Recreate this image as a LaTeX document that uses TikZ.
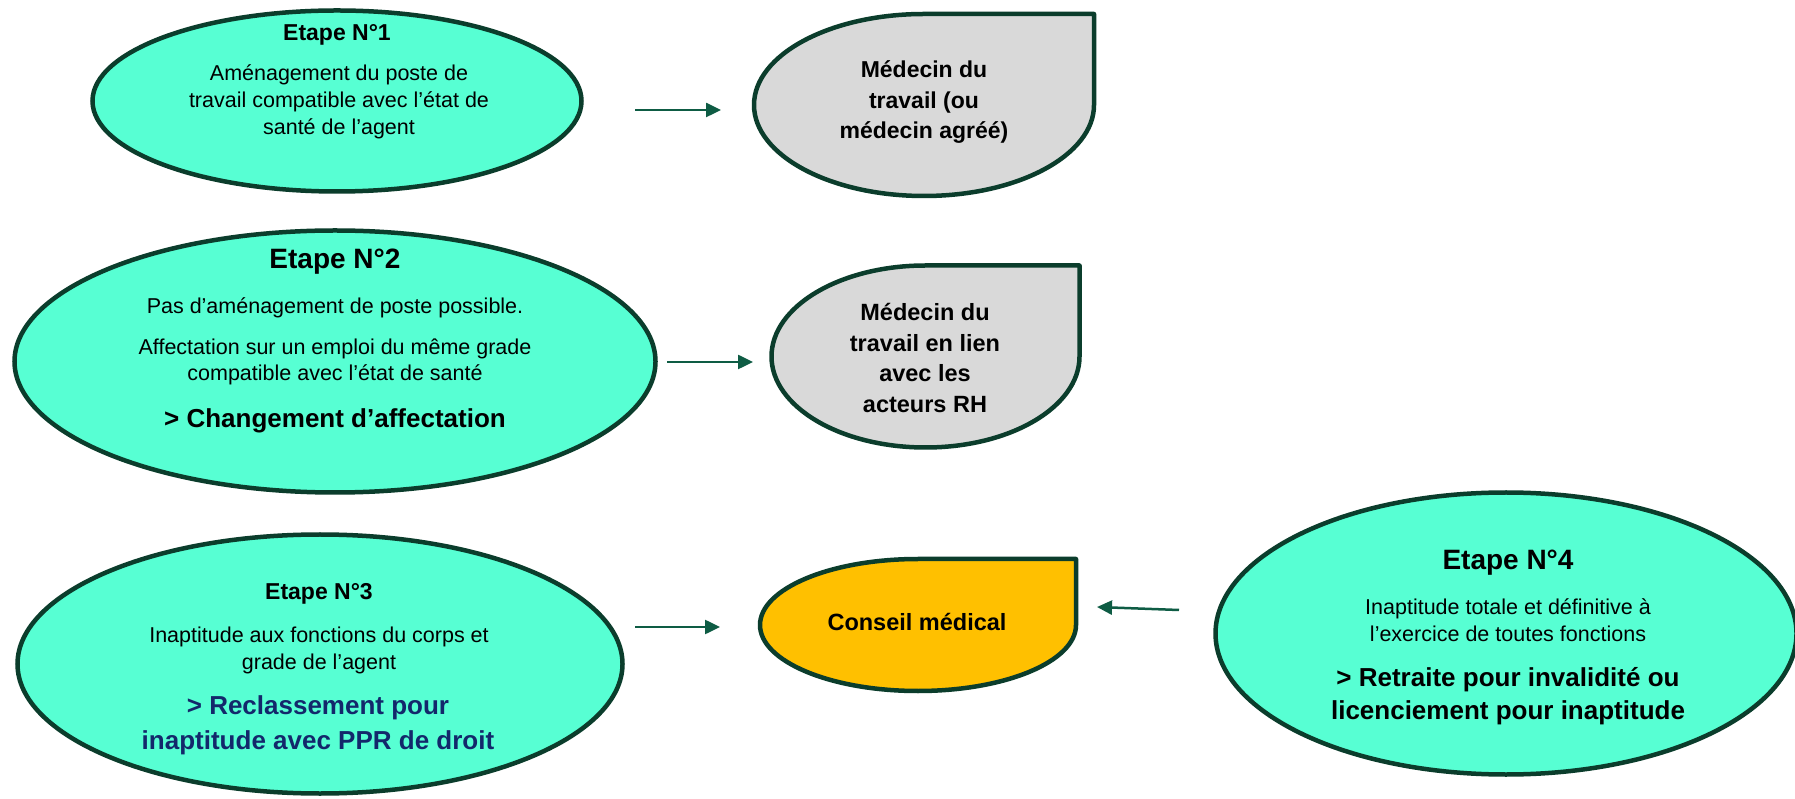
\documentclass[tikz,border=0pt]{standalone}
\usepackage{fontspec}
\setmainfont{Liberation Sans}
\usetikzlibrary{arrows.meta,shapes.geometric}
\definecolor{mint}{HTML}{57FFD3}
\definecolor{edgec}{HTML}{0B3D2C}
\definecolor{greyf}{HTML}{D9D9D9}
\definecolor{goldf}{HTML}{FFC000}
\definecolor{arrowc}{HTML}{0E5C44}
\definecolor{navyt}{HTML}{13286B}
\newcommand\myfs[2]{\fontsize{#1}{#2}\selectfont}
\newcommand\tdrop[5]{%
  \draw[tdline,fill=#5] (#1-#3,#2) arc[start angle=180,end angle=90,x radius=#3pt,y radius=#4pt]
    -- (#1+#3,#2+#4) -- (#1+#3,#2)
    arc[start angle=0,end angle=-180,x radius=#3pt,y radius=#4pt] -- cycle;}
\tikzset{
  stepell/.style={ellipse, draw=edgec, line width=4.5pt, fill=mint, inner sep=0pt},
  tdline/.style={draw=edgec, line width=4.5pt, line join=round},
  arr/.style={draw=arrowc, line width=2.5pt, -{Triangle[length=15pt,width=14pt]}},
  tx/.style={align=center, inner sep=0pt, text=black},
}
\begin{document}
\begin{tikzpicture}[x=1pt,y=1pt]
\path[fill=white] (0,0) rectangle (1795,798);
\useasboundingbox (0,0) rectangle (1795,798);

% Step 1
\node[stepell, minimum width=489pt, minimum height=181pt] (e1) at (337,697) {};
\node[tx, anchor=base, font=\myfs{23}{27}\bfseries] (t1a) at (337,757.8) {Etape N°1};
\node[tx, font=\myfs{21.5}{27}] (t1b) at (339,696.2) {Aménagement du poste de\\travail compatible avec l’état de\\santé de l’agent};

\tdrop{924}{693}{170}{91}{greyf}
\node[tx, font=\myfs{23}{30.5}\bfseries] (s1) at (924,695.5) {Médecin du\\travail (ou\\médecin agréé)};

\coordinate (a1s) at (635,688);
\coordinate (a1e) at (721,688);
\draw[arr] (a1s) -- (a1e);

% Step 2
\node[stepell, minimum width=641pt, minimum height=262pt] (e2) at (335,436.5) {};
\node[tx, anchor=base, font=\myfs{28}{32}\bfseries] (t2a) at (335,529.3) {Etape N°2};
\node[tx, anchor=base, font=\myfs{21.5}{26}] (t2b) at (335,484.5) {Pas d’aménagement de poste possible.};
\node[tx, font=\myfs{21.5}{26}] (t2c) at (335,436.2) {Affectation sur un emploi du même grade\\compatible avec l’état de santé};
\node[tx, anchor=base, font=\myfs{26}{30}\bfseries] (t2d) at (335,370.7) {> Changement d’affectation};

\tdrop{925.5}{441.5}{154}{91}{greyf}
\node[tx, font=\myfs{23.5}{30.7}\bfseries] (s2) at (925,440) {Médecin du\\travail en lien\\avec les\\acteurs RH};

\coordinate (a2s) at (667,436);
\coordinate (a2e) at (753,436);
\draw[arr] (a2s) -- (a2e);

% Step 3
\node[stepell, minimum width=605pt, minimum height=259pt] (e3) at (320,134) {};
\node[tx, anchor=base, font=\myfs{23}{27}\bfseries] (t3a) at (319,198.8) {Etape N°3};
\node[tx, font=\myfs{21.5}{27}] (t3b) at (319,147.7) {Inaptitude aux fonctions du corps et\\grade de l’agent};
\node[tx, font=\myfs{26}{35}\bfseries, text=navyt] (t3c) at (318,73.2) {> Reclassement pour\\inaptitude avec PPR de droit};

\tdrop{918}{173}{158}{66}{goldf}
\node[tx, anchor=base, font=\myfs{23.5}{28}\bfseries] (s3) at (917,167.6) {Conseil médical};

\coordinate (a3s) at (635,171);
\coordinate (a3e) at (720,171);
\draw[arr] (a3s) -- (a3e);

% Step 4
\node[stepell, minimum width=581pt, minimum height=282pt] (e4) at (1506,164.5) {};
\node[tx, anchor=base, font=\myfs{28}{32}\bfseries] (t4a) at (1508,228) {Etape N°4};
\node[tx, font=\myfs{21.5}{27}] (t4b) at (1508,177.6) {Inaptitude totale et définitive à\\l’exercice de toutes fonctions};
\node[tx, font=\myfs{26}{33}\bfseries] (t4c) at (1508,102.2) {> Retraite pour invalidité ou\\licenciement pour inaptitude};

\coordinate (a4s) at (1179,188);
\coordinate (a4e) at (1097,191);
\draw[arr] (a4s) -- (a4e);
\end{tikzpicture}
\end{document}
